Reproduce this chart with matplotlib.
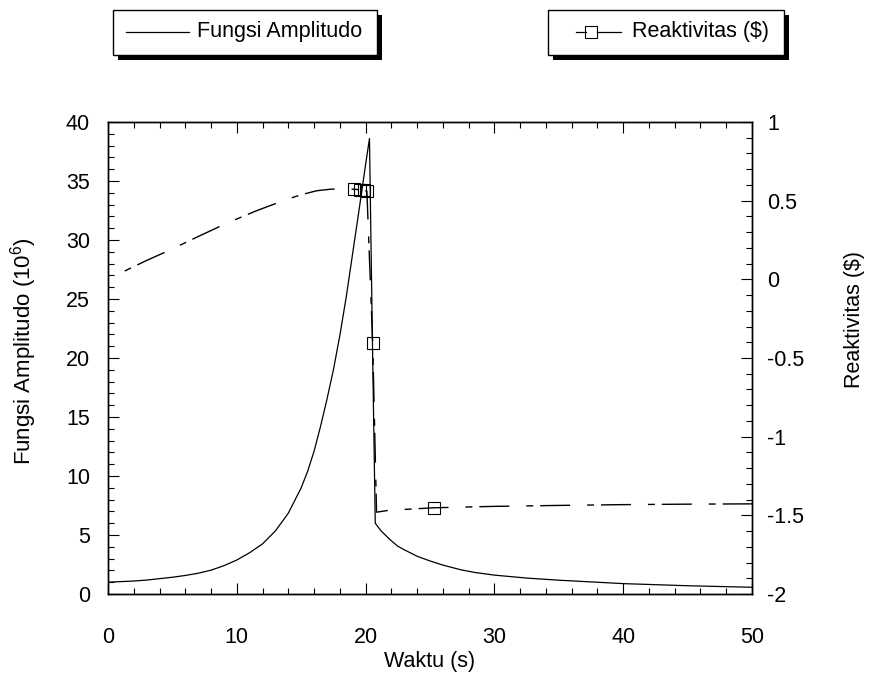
import matplotlib
matplotlib.use('Agg')
import matplotlib.pyplot as plt
from matplotlib.patches import Rectangle
from matplotlib.lines import Line2D
from matplotlib.ticker import MultipleLocator, FuncFormatter

plt.rcParams['font.family'] = ['Liberation Sans', 'DejaVu Sans']
plt.rcParams['axes.unicode_minus'] = False
plt.rcParams['mathtext.fontset'] = 'custom'
plt.rcParams['mathtext.rm'] = 'Liberation Sans'
plt.rcParams['mathtext.it'] = 'Liberation Sans'

# ---- data ----
t_amp = [0, 1, 2, 3, 4, 5, 6, 7, 8, 9, 10, 11, 12, 13, 14, 15, 15.5, 16, 16.5,
         17, 17.5, 18, 18.5, 19, 19.5, 20, 20.3, 20.55, 20.75, 21.2, 21.9,
         22.5, 23, 24, 25, 26, 27.4, 28.5, 30, 32.5, 35, 40, 45, 50]
amp = [1.0, 1.05, 1.1, 1.18, 1.3, 1.42, 1.57, 1.76, 2.02, 2.4, 2.88, 3.5,
       4.25, 5.35, 6.85, 9.0, 10.4, 12.1, 14.2, 16.5, 19.0, 21.9, 25.2, 28.9,
       32.6, 36.4, 38.6, 20.0, 6.0, 5.35, 4.6, 4.05, 3.75, 3.2, 2.8, 2.45,
       2.05, 1.82, 1.6, 1.35, 1.17, 0.88, 0.7, 0.57]

t_rho = [1.3, 3.0, 4.8, 7.0, 9.2, 11.5, 13.9, 15.1, 16.2, 17.3, 18.5, 19.1,
         19.55, 19.9, 20.1, 20.55, 20.85, 21.8, 25.3, 30, 35, 40, 45, 50]
rho = [0.053, 0.12, 0.186, 0.272, 0.356, 0.435, 0.509, 0.540, 0.563, 0.573,
       0.576, 0.572, 0.570, 0.566, 0.560, -0.405, -1.48, -1.468, -1.452,
       -1.443, -1.437, -1.432, -1.429, -1.427]
rho_marker_idx = [11, 12, 13, 14, 15, 18]

xticks_major = 10
amp_major = 5
rho_major = 0.5

W, H = 870, 677
fig = plt.figure(figsize=(W / 100, H / 100), dpi=100)


def fx(p):
    return p / W


def fy(p):
    return 1 - p / H


FS = 15.5
L, R, T, B = 108, 752, 122, 594
ax = fig.add_axes([fx(L), fy(B), (R - L) / W, (B - T) / H])
ax.plot(t_amp, amp, color='black', lw=0.9)
ax.set_xlim(0, 50)
ax.set_ylim(0, 40)

ax2 = ax.twinx()
ax2.plot(t_rho, rho, color='black', lw=1.0, linestyle=(0, (5, 5, 21.6, 12.2)),
         marker='s', markevery=rho_marker_idx, markersize=8,
         markerfacecolor='none', markeredgecolor='black', markeredgewidth=0.8)
ax2.set_ylim(-2, 1)

fmt = FuncFormatter(lambda v, p: f'{v:g}')
ax.xaxis.set_major_locator(MultipleLocator(xticks_major))
ax.xaxis.set_minor_locator(MultipleLocator(2))
ax.yaxis.set_major_locator(MultipleLocator(amp_major))
ax.yaxis.set_minor_locator(MultipleLocator(1))
ax2.yaxis.set_major_locator(MultipleLocator(rho_major))
ax2.yaxis.set_minor_locator(MultipleLocator(0.1))
ax.xaxis.set_major_formatter(fmt)
ax.yaxis.set_major_formatter(fmt)
ax2.yaxis.set_major_formatter(fmt)

for a in (ax, ax2):
    for s in a.spines.values():
        s.set_linewidth(1.0)

ax.tick_params(which='both', direction='in', top=True, right=False,
               width=0.8, labelsize=FS, colors='black')
ax.tick_params(which='major', length=8)
ax.tick_params(which='minor', length=4.3)
ax.tick_params(axis='x', pad=24)
ax.tick_params(axis='y', pad=13)
ax2.tick_params(which='both', direction='in', width=0.8, labelsize=FS)
ax2.tick_params(which='major', length=8, pad=11)
ax2.tick_params(which='minor', length=4.3)

fig.text(fx(430), fy(662), 'Waktu (s)', ha='center', va='center', fontsize=FS)
fig.text(fx(24), fy(351), r'Fungsi Amplitudo (10$^{6}$)', ha='center',
         va='center', rotation=90, fontsize=16)
fig.text(fx(855), fy(320), 'Reaktivitas ($)', ha='center', va='center',
         rotation=90, fontsize=FS)


def legend_box(x0, y0, x1, y1):
    sh = 5
    fig.add_artist(Rectangle((fx(x0 + sh), fy(y1 + sh)), (x1 - x0) / W,
                             (y1 - y0) / H, transform=fig.transFigure,
                             facecolor='black', edgecolor='black', lw=0))
    fig.add_artist(Rectangle((fx(x0), fy(y1)), (x1 - x0) / W, (y1 - y0) / H,
                             transform=fig.transFigure, facecolor='white',
                             edgecolor='black', lw=1.0))


legend_box(113, 10, 377, 55)
fig.add_artist(Line2D([fx(126), fx(189)], [fy(32), fy(32)],
                      transform=fig.transFigure, color='black', lw=0.9))
fig.text(fx(197), fy(32), 'Fungsi Amplitudo', ha='left', va='center', fontsize=FS)

legend_box(548, 10, 784, 55)
fig.add_artist(Line2D([fx(576), fx(586)], [fy(32), fy(32)],
                      transform=fig.transFigure, color='black', lw=0.9))
fig.add_artist(Line2D([fx(597), fx(621)], [fy(32), fy(32)],
                      transform=fig.transFigure, color='black', lw=0.9))
fig.add_artist(Line2D([fx(591.5)], [fy(32)], transform=fig.transFigure,
                      marker='s', markersize=8, markerfacecolor='none',
                      markeredgecolor='black', markeredgewidth=0.8))
fig.text(fx(632), fy(32), 'Reaktivitas ($)', ha='left', va='center', fontsize=FS)

fig.savefig('out.png', dpi=100)
